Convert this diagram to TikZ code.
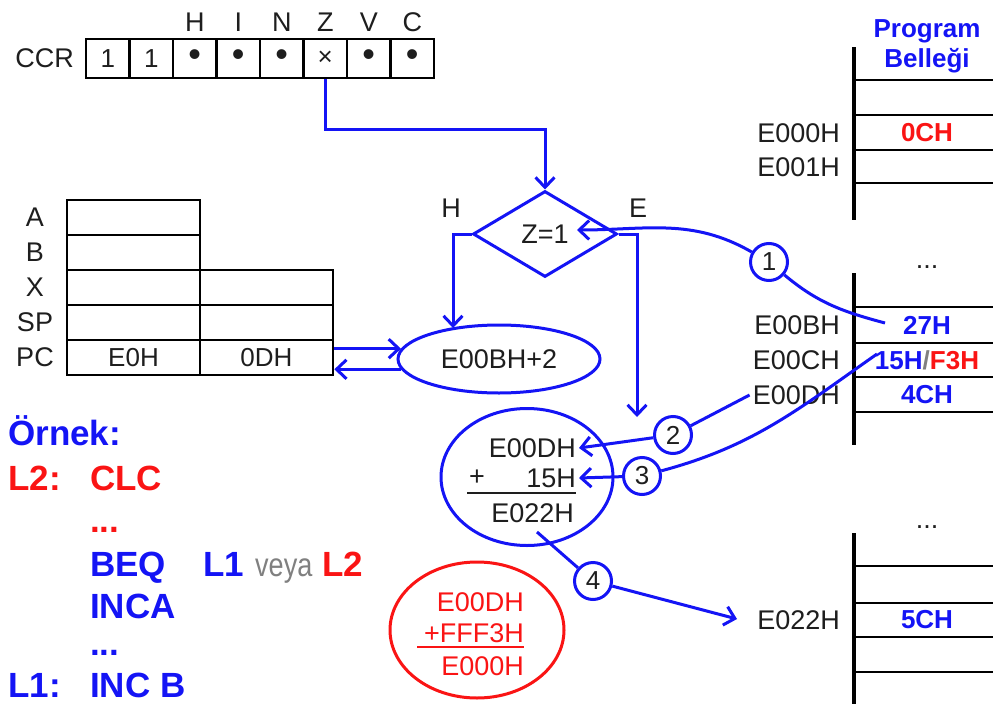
\documentclass[tikz,border=0pt]{standalone}
\usepackage{fontspec}
\setmainfont{Liberation Sans}
\usepackage{graphicx}
\usetikzlibrary{shapes.geometric,arrows.meta}
\definecolor{bl}{RGB}{20,20,245}
\definecolor{rd}{RGB}{250,20,20}
\definecolor{tx}{RGB}{30,30,30}
\newcommand{\myfs}[1]{\fontsize{#1}{#1}\selectfont}
\begin{document}
\begin{tikzpicture}[x=1pt,y=1pt,
  lbl/.style={font=\myfs{27}, text=tx, inner sep=0pt},
  memv/.style={font=\bfseries\myfs{26}, inner sep=0pt},
  code/.style={font=\bfseries\myfs{35}, inner sep=0pt, anchor=base west},
  bline/.style={draw=bl, line width=3pt},
  barr/.style={bline, -{Straight Barb[length=10pt,width=19pt]}},
  kline/.style={draw=black, line width=2.8pt},
  cell/.style={draw=black, line width=2.6pt, minimum width=43.5pt, minimum height=39pt, inner sep=0pt, font=\myfs{26}, text=tx},
  reg/.style={draw=black, line width=2.6pt, minimum width=133pt, minimum height=35pt, inner sep=0pt, font=\myfs{26}, text=tx},
  num/.style={circle, draw=bl, line width=3pt, fill=white, minimum size=37pt, inner sep=0pt, font=\myfs{26}, text=tx},
]
\useasboundingbox (0,0) rectangle (993,-704);
\fill[white] (0,0) rectangle (993,-704);

% ---- CCR ----
\node[lbl, anchor=east] (ccr) at (74,-58) {CCR};
\foreach \i/\t in {1/1,2/1,3/{\myfs{36}\textbullet},4/{\myfs{36}\textbullet},5/{\myfs{36}\textbullet},6/{\myfs{26}×},7/{\myfs{36}\textbullet},8/{\myfs{36}\textbullet}}{
  \node[cell] (f\i) at ({86+43.5*(\i-0.5)},-58.5) {\t};
}
\foreach \i/\t in {3/H,4/I,5/N,6/Z,7/V,8/C}{
  \node[lbl] (fl\i) at ({86+43.5*(\i-0.5)},-22) {\t};
}

% ---- decision ----
\node[lbl, diamond, bline, minimum width=144pt, minimum height=86pt] (d) at (545,-234) {Z=1};
\node[lbl] (hl) at (451,-208) {H};
\node[lbl] (el) at (638,-208) {E};
\draw[barr] (f6.south) |- ([yshift=60pt]d.north) -- (d.north);

% ---- PC ellipse ----
\node[lbl, ellipse, bline, minimum width=202pt, minimum height=68pt] (ell) at (499,-359) {E00BH+2};
\coordinate (hb) at (453,-328);
\draw[barr] (d.west) -| (hb);
\coordinate (eb) at (637,-417);
\draw[barr] (d.east) -| (eb);

% ---- registers ----
\foreach \n/\y in {A/217.5,B/252.5}{
  \node[reg] (r\n1) at (133.5,-\y) {};
  \node[lbl] (l\n) at (35,-\y) {\n};
}
\foreach \n/\y in {X/287.5,SP/322.5}{
  \node[reg] (r\n1) at (133.5,-\y) {};
  \node[reg] (r\n2) at (266.5,-\y) {};
  \node[lbl] (l\n) at (35,-\y) {\n};
}
\node[reg] (rPC1) at (133.5,-357.5) {E0H};
\node[reg] (rPC2) at (266.5,-357.5) {0DH};
\node[lbl] (lPC) at (35,-357.5) {PC};
\draw[barr] (rPC2.east |- ell.174) -- (ell.174);
\draw[barr] (ell.186) -- (rPC2.east |- ell.186);

% ---- program memory ----
\node[font=\bfseries\fontsize{26}{30}\selectfont, text=bl, align=center, inner sep=0pt] (title) at (927,-46) {Program\\Belleği};
\draw[kline, line width=3.2pt] (854,-47) -- (854,-220);
\foreach \y in {80,115,150,183} \draw[kline] (854,-\y) -- (993,-\y);
\node[lbl, anchor=east] (mE000) at (840,-133) {E000H};
\node[lbl, anchor=east] (mE001) at (840,-167) {E001H};
\node[memv, text=rd] (v0C) at (927,-133) {0CH};

\node[lbl, anchor=base] (dots1) at (927,-268) {...};
\draw[kline, line width=3.2pt] (854,-273) -- (854,-445);
\foreach \y in {307,343,377,412} \draw[kline] (854,-\y) -- (993,-\y);
\node[lbl, anchor=east] (mE00B) at (840,-325) {E00BH};
\node[lbl, anchor=east] (mE00C) at (840,-360) {E00CH};
\node[lbl, anchor=east] (mE00D) at (840,-395) {E00DH};
\node[memv, text=bl] (v27) at (927,-325) {27H};
\node[memv, text=bl] (v15) at (927,-360) {15H{\color{gray}/}\textcolor{rd}{F3H}};
\node[memv, text=bl] (v4C) at (927,-395) {4CH};

\node[lbl, anchor=base] (dots2) at (927,-528) {...};
\draw[kline, line width=3.2pt] (854,-533) -- (854,-704);
\foreach \y in {566,603,637,672} \draw[kline] (854,-\y) -- (993,-\y);
\node[lbl, anchor=east] (mE022) at (840,-620) {E022H};
\node[memv, text=bl] (v5C) at (927,-620) {5CH};

% ---- calculation ellipse ----
\node[ellipse, bline, minimum width=172pt, minimum height=137pt] (calc) at (527,-477) {};
\node[lbl, anchor=east] (t1) at (576,-448) {E00DH};
\node[lbl, anchor=east] (t2) at (576,-478) {15H};
\node[lbl] (tp) at (477,-478) {+};
\draw[draw=tx, line width=2.8pt] (467,-493) -- (576,-493);
\node[lbl, anchor=east] (t3) at (574,-513) {E022H};

% ---- red ellipse ----
\node[ellipse, draw=rd, line width=3pt, minimum width=174pt, minimum height=136pt] (red) at (477,-630) {};
\node[lbl, text=rd, anchor=east] (r1) at (524,-602) {E00DH};
\node[lbl, text=rd, anchor=east] (r2) at (524,-633) {+FFF3H};
\draw[draw=rd, line width=2.8pt] (417,-647) -- (524,-647);
\node[lbl, text=rd, anchor=east] (r3) at (524,-666) {E000H};

% ---- numbered steps ----
\coordinate (s1) at (885,-323);
\coordinate (e1) at (577,-230);
\coordinate (s3) at (877,-354);
\coordinate (s4) at (537,-532);
\coordinate (a4) at (737,-619);
\node[num] (c1) at (769,-262) {1};
\node[num] (c2) at (673,-435) {2};
\node[num] (c3) at (642,-476) {3};
\node[num] (c4) at (593,-581) {4};
\draw[bline] (s1) to[out=165, in=-40] (c1);
\draw[barr] (c1) to[out=150, in=0] (e1);
\draw[bline] ([xshift=-3pt]mE00D.west) -- (c2);
\draw[barr] (c2) -- ([xshift=3pt]t1.east);
\draw[bline] (s3) to[out=215, in=15] (c3);
\draw[barr] (c3) -- ([xshift=3pt]t2.east);
\draw[bline] (s4) -- (c4);
\draw[barr] (c4) -- (a4);

% ---- code ----
\node[code, text=bl] (k0) at (8,-445) {Örnek:};
\node[code, text=rd] (k1) at (8,-490) {L2:};
\node[code, text=rd] (k2) at (90,-490) {CLC};
\node[code, text=rd] (k3) at (90,-532) {...};
\node[code, text=bl] (k4) at (90,-576) {BEQ};
\node[code, text=bl] (k5) at (203,-576) {L1};
\node[anchor=base west, inner sep=0pt, text=gray] (k6) at (255,-576) {\scalebox{0.82}[1]{\myfs{33}veya}};
\node[code, text=rd] (k7) at (322,-576) {L2};
\node[code, text=bl] (k8) at (90,-618) {INCA};
\node[code, text=bl] (k9) at (90,-655) {...};
\node[code, text=bl] (k10) at (8,-697) {L1:};
\node[code, text=bl] (k11) at (90,-697) {INC B};
\end{tikzpicture}
\end{document}
